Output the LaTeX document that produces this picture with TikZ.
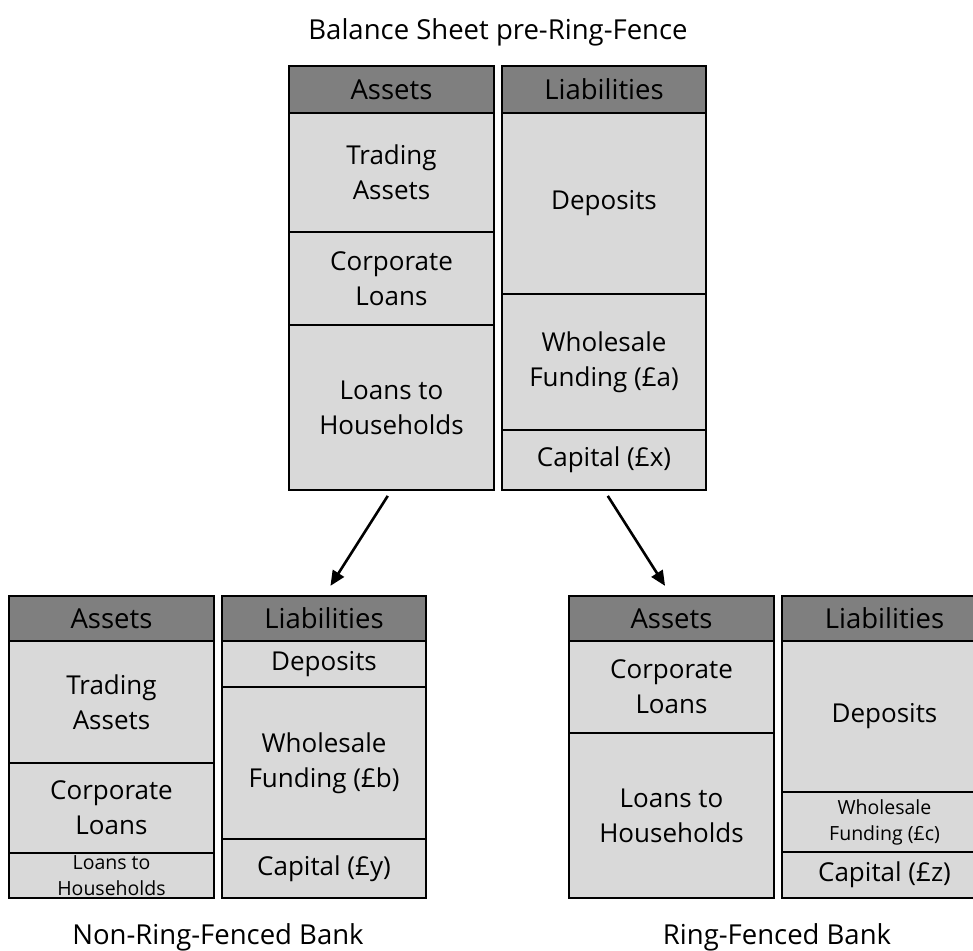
\documentclass[tikz,border=0pt]{standalone}
\usepackage{fontspec}
\setmainfont{Open Sans}
\usetikzlibrary{arrows.meta}
\definecolor{hdrgray}{HTML}{7F7F7F}
\definecolor{cellgray}{HTML}{D9D9D9}
\newcommand\bigtxt{\fontsize{26}{35}\selectfont}
\newcommand\hdrtxt{\fontsize{27.5}{35}\selectfont}
\newcommand\ttltxt{\fontsize{27.5}{35}\selectfont}
\newcommand\smalltxt{\fontsize{19.5}{26}\selectfont}
\begin{document}
\begin{tikzpicture}[x=1pt,y=-1pt,
  cellbox/.style={draw=black, line width=1.5pt, fill=cellgray, anchor=north west,
    inner sep=0pt, outer sep=0pt, minimum width=205pt, minimum height=#1,
    align=center, font=\bigtxt, text=black},
  hdrbox/.style={cellbox=#1, fill=hdrgray, font=\hdrtxt},
  smallcell/.style={font=\smalltxt},
  titletxt/.style={font=\ttltxt, text=black, inner sep=0pt},
  arr/.style={line width=2.6pt, -{Triangle[length=15pt,width=13pt]}}]
\path[use as bounding box] (0,0) rectangle (973,950);
\clip (0,0) rectangle (973,950);

% ---------- top: pre-ring-fence ----------
\node[titletxt] (ttop) at (498,32) {Balance Sheet pre-Ring-Fence};
\node[hdrbox=47pt] (tAh) at (289,66) {Assets};
\node[cellbox=119pt] (tA1) at (289,113) {Trading\\Assets};
\node[cellbox=93pt] (tA2) at (289,232) {Corporate\\Loans};
\node[cellbox=165pt] (tA3) at (289,325) {Loans to\\Households};

\node[hdrbox=47pt, minimum width=204pt] (tLh) at (502,66) {Liabilities};
\node[cellbox=181pt, minimum width=204pt] (tL1) at (502,113) {Deposits};
\node[cellbox=136pt, minimum width=204pt] (tL2) at (502,294) {Wholesale\\Funding (£a)};
\node[cellbox=60pt, minimum width=204pt] (tL3) at (502,430) {Capital (£x)};

% ---------- bottom left: non-ring-fenced ----------
\node[hdrbox=45pt] (lAh) at (9,596) {Assets};
\node[cellbox=122pt] (lA1) at (9,641) {Trading\\Assets};
\node[cellbox=90pt] (lA2) at (9,763) {Corporate\\Loans};
\node[cellbox=45pt, smallcell] (lA3) at (9,853) {Loans to\\Households};

\node[hdrbox=45pt, minimum width=204pt] (lLh) at (222,596) {Liabilities};
\node[cellbox=46pt, minimum width=204pt] (lL1) at (222,641) {Deposits};
\node[cellbox=152pt, minimum width=204pt] (lL2) at (222,687) {Wholesale\\Funding (£b)};
\node[cellbox=59pt, minimum width=204pt] (lL3) at (222,839) {Capital (£y)};
\node[titletxt] (tleft) at (218,937) {Non-Ring-Fenced Bank};

% ---------- bottom right: ring-fenced ----------
\node[hdrbox=45pt] (rAh) at (569,596) {Assets};
\node[cellbox=92pt] (rA1) at (569,641) {Corporate\\Loans};
\node[cellbox=165pt] (rA2) at (569,733) {Loans to\\Households};

\node[hdrbox=45pt] (rLh) at (782,596) {Liabilities};
\node[cellbox=151pt] (rL1) at (782,641) {Deposits};
\node[cellbox=60pt, smallcell] (rL2) at (782,792) {Wholesale\\Funding (£c)};
\node[cellbox=46pt] (rL3) at (782,852) {Capital (£z)};
\node[titletxt] (tright) at (777,937) {Ring-Fenced Bank};

% ---------- arrows ----------
\draw[arr, shorten <=7pt, shorten >=12pt] (tA3.south) -- (lLh.north);
\draw[arr, shorten <=7pt, shorten >=12pt] (tL3.south) -- (rAh.north);
\end{tikzpicture}
\end{document}
